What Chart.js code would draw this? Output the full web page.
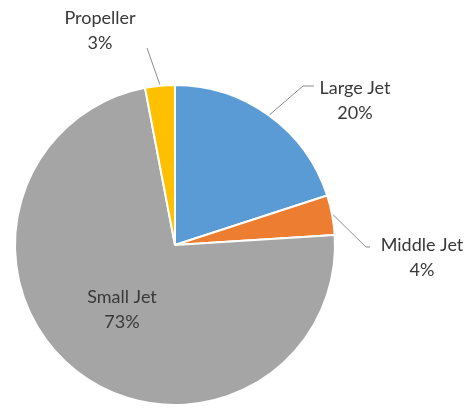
<!DOCTYPE html>
<html>
<head>
<meta charset="utf-8">
<script src="https://cdn.jsdelivr.net/npm/chart.js@4.4.1/dist/chart.umd.min.js"></script>
<style>
  html, body { margin: 0; padding: 0; background: #ffffff; }
  #wrap { width: 467px; height: 409px; position: relative; }
</style>
</head>
<body>
<div id="wrap"><canvas id="c" width="467" height="409"></canvas></div>
<script>
// Aircraft fleet share by type (percent)
const categories = ['Large Jet', 'Middle Jet', 'Small Jet', 'Propeller'];
const shares = [20, 4, 73, 3];
const sliceColors = ['#5B9BD5', '#ED7D31', '#A5A5A5', '#FFC000'];

// Label placement: text centre and leader-line end, in canvas pixels
const labelLayout = [
  { text: [355, 88], line: [303, 86], hook: [314, 86], leader: true },
  { text: [422, 245], line: [366, 247], hook: [370, 247], leader: true },
  { text: [122, 297], leader: false },
  { text: [100, 18], line: [147, 48], hook: null, leader: true }
];

const dataLabels = {
  id: 'dataLabels',
  afterDatasetsDraw(chart) {
    const ctx = chart.ctx;
    const meta = chart.getDatasetMeta(0);
    ctx.save();
    meta.data.forEach((arc, i) => {
      const lay = labelLayout[i];
      const p = arc.getProps(['x', 'y', 'startAngle', 'endAngle', 'outerRadius'], true);
      const mid = (p.startAngle + p.endAngle) / 2;
      if (lay.leader) {
        const r = p.outerRadius + 1;
        ctx.beginPath();
        ctx.strokeStyle = '#8c8c8c';
        ctx.lineWidth = 1;
        ctx.moveTo(p.x + Math.cos(mid) * r, p.y + Math.sin(mid) * r);
        ctx.lineTo(lay.line[0], lay.line[1]);
        if (lay.hook) ctx.lineTo(lay.hook[0], lay.hook[1]);
        ctx.stroke();
      }
      ctx.fillStyle = '#383838';
      ctx.font = '18px Lato, "Open Sans", sans-serif';
      ctx.textAlign = 'center';
      ctx.textBaseline = 'middle';
      ctx.fillText(categories[i], lay.text[0], lay.text[1]);
      ctx.fillText(shares[i] + '%', lay.text[0], lay.text[1] + 25);
    });
    ctx.restore();
  }
};

new Chart(document.getElementById('c'), {
  type: 'pie',
  data: {
    labels: categories,
    datasets: [{
      data: shares,
      backgroundColor: sliceColors,
      borderColor: '#ffffff',
      borderWidth: 2
    }]
  },
  options: {
    responsive: false,
    animation: false,
    events: [],
    layout: { padding: { left: 14, top: 84, right: 131, bottom: 3 } },
    plugins: {
      legend: { display: false },
      tooltip: { enabled: false }
    }
  },
  plugins: [dataLabels]
});
</script>
</body>
</html>
